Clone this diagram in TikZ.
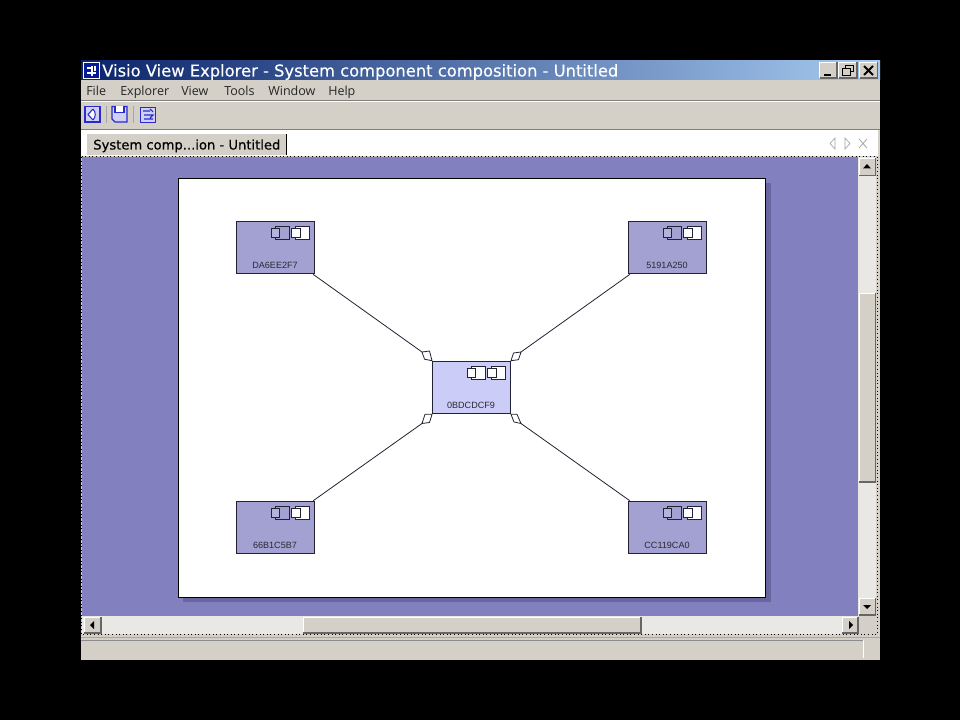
\documentclass[tikz,border=0pt]{standalone}
\usepackage{fontspec}
\setmainfont{DejaVu Sans}
\newfontfamily\titlefont[FakeBold=0.25]{DejaVu Sans}
\newfontfamily\tabfont[FakeBold=0.45]{DejaVu Sans}
\newfontfamily\uifont{Open Sans}
\newfontfamily\lblfont{Liberation Sans}
\usetikzlibrary{calc}
\definecolor{winbg}{HTML}{D4D0C8}
\definecolor{deskblue}{HTML}{8380C0}
\definecolor{nodeblue}{HTML}{A3A1D1}
\definecolor{nodeinner}{HTML}{B4B3DC}
\definecolor{nodelight}{HTML}{CCCCF8}
\definecolor{shadowblue}{HTML}{68669F}
\definecolor{track}{HTML}{EAE8E4}
\definecolor{iconblue}{HTML}{2A2AD0}
\definecolor{iconfill}{HTML}{CFD0F2}
\definecolor{linedark}{HTML}{222233}
\definecolor{titleleft}{HTML}{0A246A}
\definecolor{titleright}{HTML}{A6CAF0}
\tikzset{
  x=0.75pt,y=-0.75pt,
  comp/.style={draw=linedark,line width=0.7pt,minimum width=58.5pt,minimum height=39.5pt,inner sep=0pt,fill=nodeblue},
  complight/.style={comp,fill=nodelight},
  lbl/.style={font=\lblfont\fontsize{6.8}{8}\selectfont,text=black!75!nodeblue,inner sep=0pt},
  menu/.style={font=\uifont\fontsize{9.4}{11}\selectfont,text=black!85,anchor=base west,inner sep=0pt},
  link/.style={draw=linedark,line width=0.6pt},
  gem/.style={draw=linedark,line width=0.6pt,fill=white,line join=round},
  tbicon/.style={draw=iconblue,line width=0.8pt,fill=iconfill},
  arrowtip/.style={fill=black,draw=none},
  tabicon/.style={draw=black!35,line width=0.5pt,fill=white},
}
% icon pair: #1 left of pair, #2 top, #3 big fill first, #4 small fill first, #5 fill second
\newcommand{\comppair}[5]{%
  \draw[draw=linedark,line width=0.6pt,fill=#3] (#1+4.5,#2) rectangle ++(13.5,13.5);
  \draw[draw=linedark,line width=0.6pt,fill=#4] (#1,#2+2.3) rectangle ++(8.5,9);
  \draw[draw=linedark,line width=0.6pt,fill=#5] (#1+24.5,#2) rectangle ++(14,13.5);
  \draw[draw=linedark,line width=0.6pt,fill=#5] (#1+20.5,#2+2.3) rectangle ++(8.5,9);
}
% raised button: left, top, right, bottom
\newcommand{\raisedbtn}[4]{%
  \fill[winbg] (#1,#2) rectangle (#3,#4);
  \draw[white,line width=0.6pt] (#1,#4) -- (#1,#2) -- (#3,#2);
  \draw[black!60,line width=0.8pt] (#1,#4) -- (#3,#4) -- (#3,#2);
}
\begin{document}
\begin{tikzpicture}
\useasboundingbox (0,0) rectangle (960,720);
\fill[black] (0,0) rectangle (960,720);
% window
\fill[winbg] (81,61) rectangle (880,660);
\shade[left color=titleleft,right color=titleright] (81,61) rectangle (880,80);
\node[anchor=base west,inner sep=0pt,text=white,font=\titlefont\fontsize{12.25}{14}\selectfont] (title) at (102,76.5) {Visio View Explorer - System component composition - Untitled};
% title icon
\draw[draw=white,fill=titleleft!70!blue,line width=0.7pt] (83.5,62.5) rectangle (99,78);
\draw[white,line width=0.9pt] (87,68) -- (91,68) (87,73) -- (96,73) (92,66) -- (92,76) (95,66) -- (95,71);
% title buttons
\raisedbtn{819.5}{62.5}{837}{78}
\raisedbtn{838.5}{62.5}{857}{78}
\raisedbtn{859.5}{62.5}{877.5}{78}
\draw[black,line width=1.4pt] (824,75) -- (831,75);
\draw[black,line width=0.7pt] (845,65.5) rectangle (853,71.5);
\draw[black,fill=winbg,line width=0.7pt] (842,68.5) rectangle (850,75);
\draw[black,line width=1.5pt] (864,66) -- (873,75) (873,66) -- (864,75);
% menu
\node[menu] (mfile) at (86,95.5) {File};
\node[menu] (mexp) at (120,95.5) {Explorer};
\node[menu] (mview) at (181,95.5) {View};
\node[menu] (mtools) at (224,95.5) {Tools};
\node[menu] (mwin) at (268,95.5) {Window};
\node[menu] (mhelp) at (328,95.5) {Help};
\draw[white,line width=0.7pt] (81,101.5) -- (880,101.5);
\draw[black!50,line width=0.6pt] (81,100.5) -- (880,100.5);
% toolbar
\draw[tbicon] (85,106.5) rectangle (100,122);
\fill[white] (93,109) -- (88,114.5) -- (93,120) .. controls (96,117) and (96,112) .. (93,109);
\draw[iconblue,line width=0.8pt] (93,109) -- (88,114.5) -- (93,120) (93,109) .. controls (96,112) and (96,117) .. (93,120);
\draw[black!35,line width=0.6pt] (106,106) -- (106,123);
\draw[tbicon] (112,106.5) -- (127,106.5) -- (127,122) -- (115,122) -- (112,119) -- cycle;
\draw[iconblue,fill=white,line width=0.8pt] (115,106.5) -- (115,112.5) -- (124,112.5) -- (124,106.5);
\draw[black!35,line width=0.6pt] (133.5,106) -- (133.5,123);
\draw[tbicon] (140.5,107.5) rectangle (155.5,122.5);
\draw[iconblue,line width=0.8pt] (143,111) -- (150,111) (144,115) -- (153,115) -- (150,118) (144,119) -- (153,119) (150,109) -- (153,112);
% tab strip
\draw[black!50,line width=0.6pt] (81,129.5) -- (880,129.5);
\fill[white] (81,130) rectangle (878,156);
\fill[winbg] (87,134) rectangle (286,155);
\draw[black,line width=0.8pt] (286.5,134) -- (286.5,155);
\node[anchor=base west,inner sep=0pt,text=black,font=\tabfont\fontsize{9.85}{12}\selectfont] (tabtext) at (93,149.5) {System comp...ion - Untitled};
\draw[tabicon] (835,138) -- (830,143.5) -- (835,149) -- cycle;
\draw[tabicon] (845,138) -- (850,143.5) -- (845,149) -- cycle;
\draw[black!35,line width=0.6pt] (859,139) -- (867,148) (867,139) -- (859,148);
% desktop
\fill[deskblue] (82,157) rectangle (858,616);
\fill[shadowblue] (183,183) rectangle (770.5,602);
\draw[draw=black,fill=white,line width=0.6pt] (178,178) rectangle (765.5,597);
% nodes
\node[comp] (n1) at (275.5,247.5) {};
\node[comp] (n2) at (667.5,247.5) {};
\node[comp] (n3) at (275.5,527.5) {};
\node[comp] (n4) at (667.5,527.5) {};
\node[complight] (n0) at (471.5,387.5) {};
\comppair{271}{226}{nodeblue}{nodeinner}{white}
\comppair{663}{226}{nodeblue}{nodeinner}{white}
\comppair{271}{506}{nodeblue}{nodeinner}{white}
\comppair{663}{506}{nodeblue}{nodeinner}{white}
\comppair{467}{366}{white}{white}{white}
\node[lbl] (l1) at (275,265) {DA6EE2F7};
\node[lbl] (l2) at (667,265) {5191A250};
\node[lbl] (l3) at (275,545) {66B1C5B7};
\node[lbl] (l4) at (667,545) {CC119CA0};
\node[lbl] (l0) at (471,405) {0BDCDCF9};
% connector ends
\coordinate (d1) at (422,352);
\coordinate (d2) at (521,352);
\coordinate (d3) at (422,423.5);
\coordinate (d4) at (521,423.5);
\draw[link] (n1) -- (d1);
\draw[link] (n2) -- (d2);
\draw[link] (n3) -- (d3);
\draw[link] (n4) -- (d4);
\draw[gem] (d1) -- ++(7.5,-1) -- (n0.north west) -- ++(-7.5,-1.5) -- cycle;
\draw[gem] (d2) -- ++(-7.5,1) -- (n0.north east) -- ++(7.5,-1) -- cycle;
\draw[gem] (d3) -- ++(7.5,-1) -- (n0.south west) -- ++(-7,0) -- cycle;
\draw[gem] (d4) -- ++(-7,-1.5) -- (n0.south east) -- ++(6,0) -- cycle;
% scrollbars
\fill[track] (858,157) rectangle (876,616);
\fill[track] (82,616) rectangle (858,634);
\fill[winbg] (858,616) rectangle (877,634);
\raisedbtn{859}{293}{875.5}{482}
\raisedbtn{303}{617}{641}{633}
\raisedbtn{859}{158}{875.5}{175.5}
\raisedbtn{859}{598}{875.5}{615}
\raisedbtn{84}{617}{101}{633}
\raisedbtn{842}{617}{858}{633}
\fill[arrowtip] (867,164) -- (863,168.5) -- (871,168.5) -- cycle;
\fill[arrowtip] (867,609) -- (863,605) -- (871,605) -- cycle;
\fill[arrowtip] (90,625) -- (94,621) -- (94,629) -- cycle;
\fill[arrowtip] (853,625) -- (849,621) -- (849,629) -- cycle;
% dotted frame
\draw[black,line width=0.7pt,dotted] (81.5,156.5) -- (877,156.5) -- (877,634.5) -- (81.5,634.5) -- cycle;
% status bar
\draw[black!35,line width=0.6pt] (81,637.5) -- (880,637.5);
\draw[black!45,line width=0.7pt] (81,640) -- (863,640);
\draw[white,line width=0.7pt] (863.5,640) -- (863.5,658);
\end{tikzpicture}
\end{document}
